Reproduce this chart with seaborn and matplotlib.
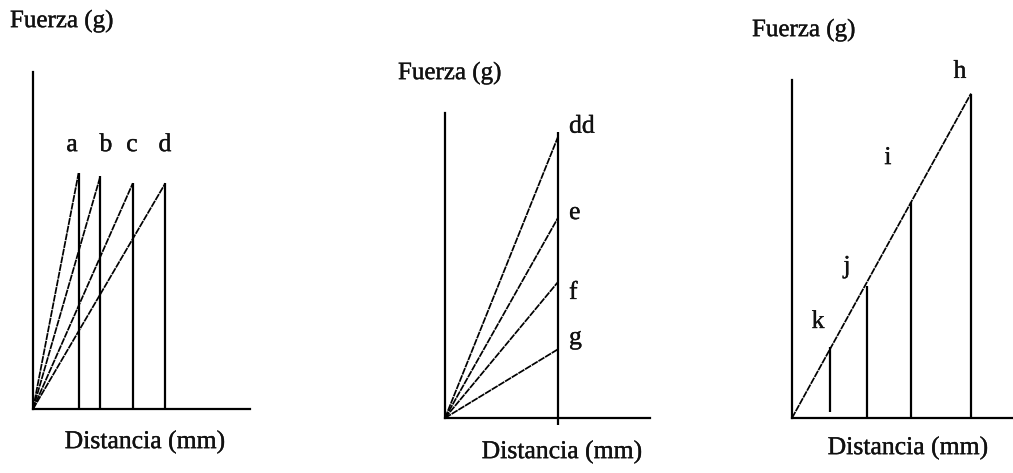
import matplotlib
matplotlib.use("Agg")
import matplotlib.pyplot as plt
import matplotlib.patheffects as pe
import numpy as np
import pandas as pd
import seaborn as sns

sns.set_theme(style="white")
plt.rcParams["font.family"] = ["Liberation Serif", "DejaVu Serif"]

# ---- Panel 1: same peak force, increasing distance ----
p1_labels = ["a", "b", "c", "d"]
p1_dist = [2.1, 3.1, 4.6, 6.1]
p1_force = [7.0, 6.9, 6.7, 6.7]
p1_label_x = [1.8, 3.36, 4.56, 6.08]
p1_label_y = [7.83, 7.83, 7.83, 7.83]

# ---- Panel 2: same distance, decreasing peak force ----
p2_labels = ["dd", "e", "f", "g"]
p2_dist = [5.5, 5.5, 5.5, 5.5]
p2_force = [9.2, 6.55, 4.45, 2.25]
p2_label_y = [9.55, 6.72, 4.1, 2.62]
p2_bar_top = 9.38

# ---- Panel 3: points along a single slope ----
p3_labels = ["k", "j", "i", "h"]
p3_dist = [1.7, 3.4, 5.4, 8.1]
p3_force = [2.1, 3.9, 6.4, 9.6]
p3_bar_bottom = [0.18, 0.0, 0.0, 0.0]
p3_label_x = [1.18, 2.49, 4.34, 7.6]
p3_label_y = [2.84, 4.47, 7.69, 10.24]

W, H = 1013, 473
fig = plt.figure(figsize=(W / 100, H / 100), dpi=100)
fig.patch.set_facecolor("white")

FS = 18.5
TXT = dict(color="#111111",
           path_effects=[pe.withStroke(linewidth=0.25, foreground="#111111")])
DIAG = dict(color="black", linewidth=1.25, linestyle=(0, (4, 0.5)))
VERT = dict(color="black", linewidth=1.6)


def make_axes(x0, y0, x1, y1):
    ax = fig.add_axes([x0 / W, 1 - y0 / H, (x1 - x0) / W, (y0 - y1) / H])
    ax.set_xlim(0, 10)
    ax.set_ylim(0, 10)
    for s in ["top", "right"]:
        ax.spines[s].set_visible(False)
    for s in ["left", "bottom"]:
        ax.spines[s].set_color("black")
        ax.spines[s].set_linewidth(1.6)
    ax.set_xticks([])
    ax.set_yticks([])
    ax.set_xlabel("")
    ax.set_ylabel("")
    ax.patch.set_alpha(0)
    return ax


def rays(ax, names, xs, ys):
    rows = []
    for n, x, y in zip(names, xs, ys):
        rows.append({"curve": n, "x": 0.0, "y": 0.0})
        rows.append({"curve": n, "x": x, "y": y})
    df = pd.DataFrame(rows)
    sns.lineplot(data=df, x="x", y="y", units="curve", estimator=None,
                 sort=False, ax=ax, **DIAG)
    ax.set_xlabel("")
    ax.set_ylabel("")


# Panel 1
ax1 = make_axes(33, 409, 250, 72)
rays(ax1, p1_labels, p1_dist, p1_force)
ax1.vlines(p1_dist, 0, p1_force, **VERT)
for t, x, y in zip(p1_labels, p1_label_x, p1_label_y):
    ax1.text(x, y, t, ha="center", va="center", fontsize=FS, **TXT)

# Panel 2
ax2 = make_axes(445, 418, 650, 113)
rays(ax2, p2_labels, p2_dist, p2_force)
ax2.vlines(p2_dist[0], -0.23, p2_bar_top, clip_on=False, **VERT)
for t, x, y in zip(p2_labels, p2_dist, p2_label_y):
    ax2.text(x + 0.55, y, t, ha="left", va="center", fontsize=FS, **TXT)

# Panel 3
ax3 = make_axes(792, 418, 1013, 80)
rays(ax3, ["slope"], [p3_dist[-1]], [p3_force[-1]])
ax3.vlines(p3_dist, p3_bar_bottom, p3_force, **VERT)
for t, x, y in zip(p3_labels, p3_label_x, p3_label_y):
    ax3.text(x, y, t, ha="center", va="center", fontsize=FS, clip_on=False, **TXT)

# Axis titles
for x, y in [(10, 21), (398, 73), (752, 30)]:
    fig.text(x / W, 1 - y / H, "Fuerza (g)", ha="left", va="center",
             fontsize=FS - 0.5, **TXT)
for x, y in [(145, 442), (562, 452), (908, 448)]:
    fig.text(x / W, 1 - y / H, "Distancia (mm)", ha="center", va="center",
             fontsize=FS, **TXT)

fig.savefig("out.png", dpi=100, facecolor="white")
